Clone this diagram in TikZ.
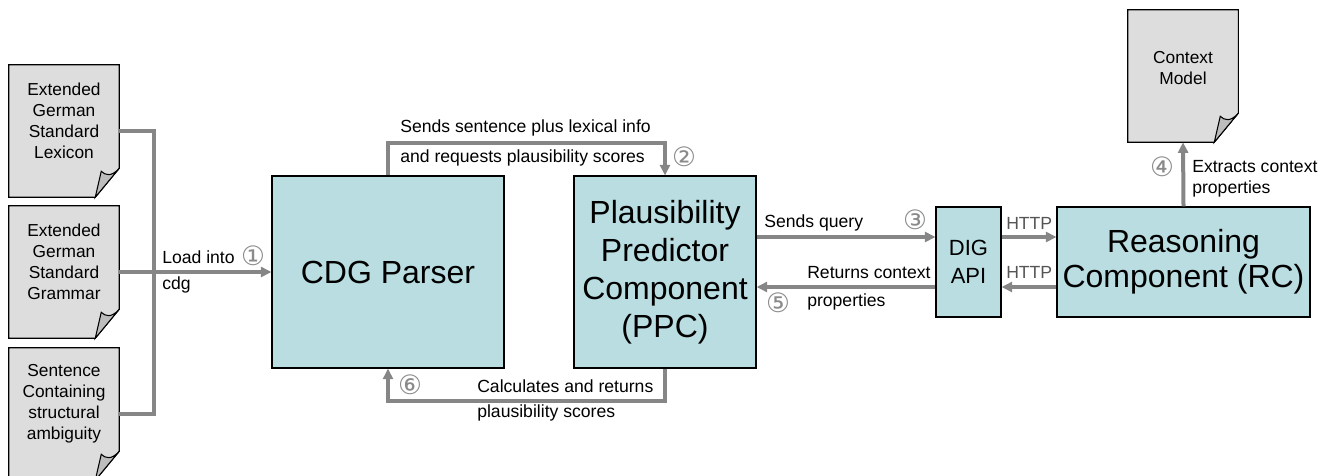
\documentclass[tikz,border=0pt]{standalone}
\usepackage{fontspec}
\setmainfont{Liberation Sans}
\newfontfamily\circfont{DejaVu Sans}
\usetikzlibrary{arrows.meta,calc}
\definecolor{boxfill}{HTML}{B9DDE1}
\definecolor{docfill}{HTML}{DDDDDD}
\definecolor{foldfill}{HTML}{BDBDBD}
\definecolor{conncol}{HTML}{868686}
\definecolor{numgray}{HTML}{8A8A8A}
\definecolor{httpgray}{HTML}{555555}
\newcommand\drawdoc[1]{%
 \draw[line width=0.8pt,fill=docfill] (#1.north west) -- (#1.north east) -- ([shift={(0,-29)}]#1.south east) -- ([shift={(-24,0)}]#1.south east) -- (#1.south west) -- cycle;
 \draw[line width=0.8pt,fill=foldfill] ([shift={(0,-29)}]#1.south east) .. controls ([shift={(-8,-20)}]#1.south east) and ([shift={(-14,-22)}]#1.south east) .. ([shift={(-18,-26)}]#1.south east) -- ([shift={(-24,0)}]#1.south east) -- cycle;
}
\begin{document}
\begin{tikzpicture}[x=0.75pt,y=-0.75pt,
  comp/.style={draw=black,line width=0.8pt,fill=boxfill,align=center,inner sep=0pt,font=\fontsize{24}{28.5}\selectfont},
  docbox/.style={minimum width=82.5pt,minimum height=99pt,inner sep=0pt},
  doctext/.style={align=center,inner sep=0pt,font=\fontsize{13}{15.75}\selectfont},
  lbl/.style={font=\fontsize{13.2}{15}\selectfont,inner sep=0pt},
  httplbl/.style={lbl,text=httpgray},
  num/.style={font=\circfont\fontsize{20}{20}\selectfont,text=numgray,inner sep=0pt},
  conn/.style={draw=conncol,line width=3pt},
  arr/.style={conn,-{Triangle[length=8pt,width=7.5pt]}},
]
\useasboundingbox (0,0) rectangle (1330,475);

% documents
\node[docbox] (d1) at (64,131) {};
\node[docbox] (d2) at (64,272) {};
\node[docbox] (d3) at (64,414) {};
\node[docbox] (ctx) at (1183,76) {};
\drawdoc{d1}
\drawdoc{d2}
\drawdoc{d3}
\drawdoc{ctx}
\path (d1.center) ++(0,-10) node[doctext] {Extended\\German\\Standard\\Lexicon};
\path (d2.center) ++(0,-10) node[doctext] {Extended\\German\\Standard\\Grammar};
\path (d3.center) ++(0,-10) node[doctext] {Sentence\\Containing\\structural\\ambiguity};
\path (ctx.center) ++(0,-8) node[doctext] {Context\\Model};

% components
\node[comp,minimum width=174pt,minimum height=144pt] (cdg) at (388,272) {CDG Parser};
\node[comp,minimum width=136.5pt,minimum height=144pt] (ppc) at (665,272) {Plausibility\\Predictor\\Component\\(PPC)};
\node[comp,minimum width=48.75pt,minimum height=82.5pt,font=\fontsize{16.5}{21}\selectfont] (dig) at (968.5,262) {DIG\\API};
\node[comp,minimum width=189.75pt,minimum height=82.5pt,font=\fontsize{24}{26.5}\selectfont] (rc) at (1183.5,262) {Reasoning\\Component (RC)};

% connectors
\coordinate (bus) at (154,272);
\draw[conn] (d1.east) -| (bus) |- (d3.east);
\draw[arr] (d2.east) -- (cdg.west);
\draw[arr] (cdg.north) -- ++(0,-32) -| (ppc.north);
\draw[arr] (ppc.south) -- ++(0,32) -| (cdg.south);
\draw[arr] (ppc.east |- 0,237) -- (dig.west |- 0,237);
\draw[arr] (dig.west |- 0,287) -- (ppc.east |- 0,287);
\draw[arr] (dig.east |- 0,237) -- (rc.west |- 0,237);
\draw[arr] (rc.west |- 0,287) -- (dig.east |- 0,287);
\draw[arr] (rc.north) -- (ctx.south);

% labels
\node[lbl,anchor=west] (l1a) at (162,257) {Load into};
\node[num] (n1) at (253,256) {①};
\node[lbl,anchor=west] (l1b) at (162,285) {cdg};
\node[lbl,anchor=west] (l2a) at (400,128) {Sends sentence plus lexical info};
\node[lbl,anchor=west] (l2b) at (400,158) {and requests plausibility scores};
\node[num] (n2) at (684,157) {②};
\node[lbl,anchor=west] (l3) at (764,223) {Sends query};
\node[num] (n3) at (915,220) {③};
\node[httplbl,anchor=west] (h1) at (1006,223) {HTTP};
\node[httplbl,anchor=west] (h2) at (1006,272) {HTTP};
\node[num] (n4) at (1162,167) {④};
\node[lbl,anchor=west] (l4a) at (1192,167) {Extracts context};
\node[lbl,anchor=west] (l4b) at (1192,189) {properties};
\node[lbl,anchor=west] (l5a) at (807,273) {Returns context};
\node[lbl,anchor=west] (l5b) at (807,302) {properties};
\node[num] (n5) at (778,303) {⑤};
\node[num] (n6) at (410,385) {⑥};
\node[lbl,anchor=west] (l6a) at (477,386) {Calculates and returns};
\node[lbl,anchor=west] (l6b) at (477,413) {plausibility scores};
\end{tikzpicture}
\end{document}
